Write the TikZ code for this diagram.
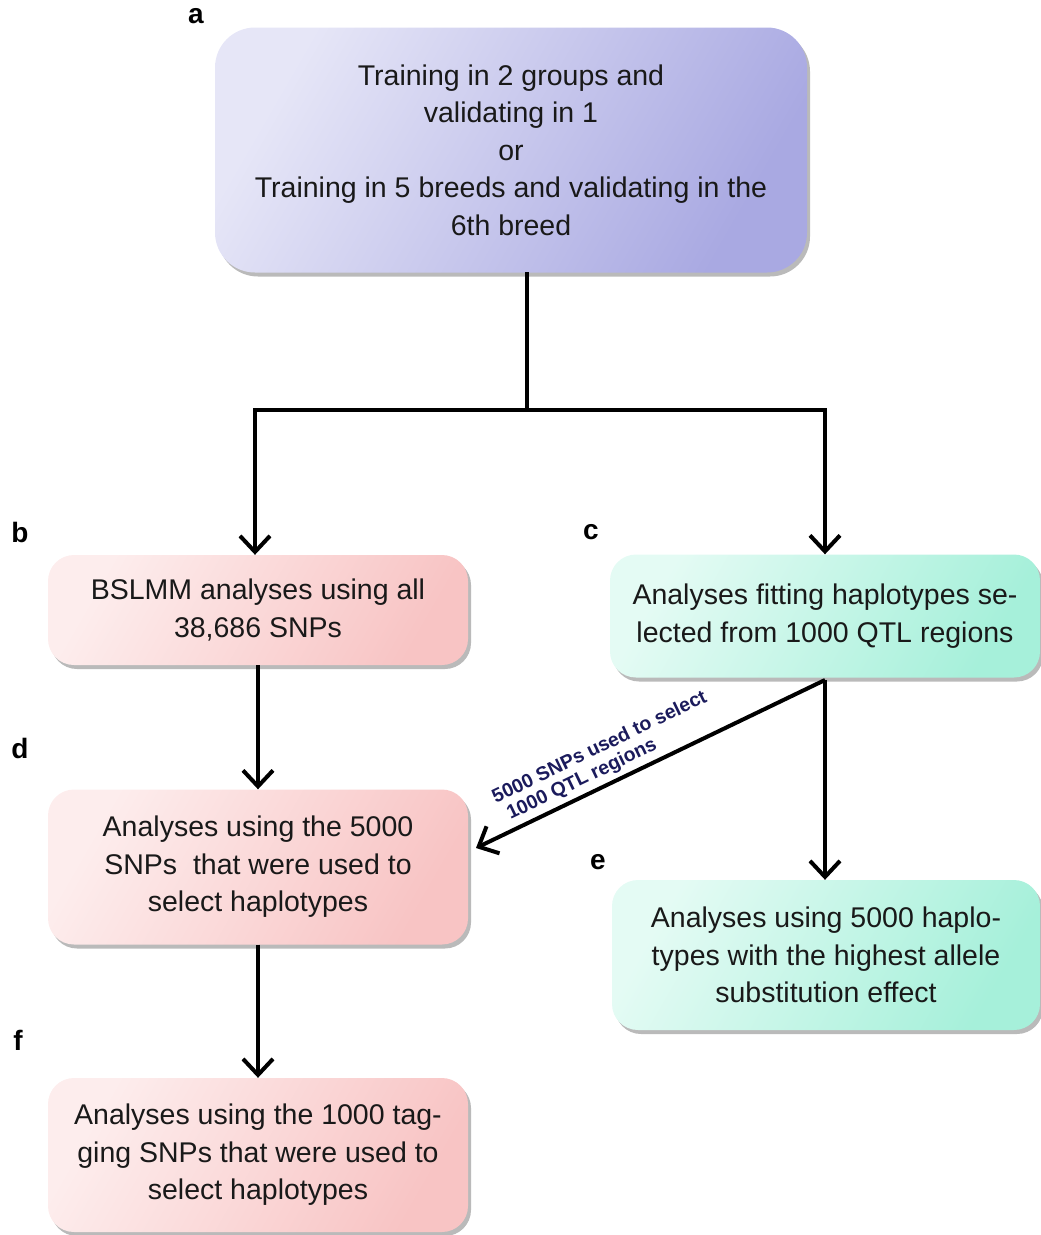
\documentclass[tikz,border=0pt]{standalone}
\usepackage{fontspec}
\setmainfont{Liberation Sans}
\usetikzlibrary{arrows.meta,shadows,calc}
\definecolor{lavL}{HTML}{E6E6F7}
\definecolor{lavD}{HTML}{A9A9E2}
\definecolor{pinkL}{HTML}{FDEDED}
\definecolor{pinkD}{HTML}{F8C4C4}
\definecolor{mintL}{HTML}{E4FBF4}
\definecolor{mintD}{HTML}{A6F0DA}
\definecolor{navy}{HTML}{1B1B5C}
\tikzset{
  box/.style={rectangle, rounded corners=26pt, align=center, inner sep=0pt,
    font=\fontsize{28.5}{37.5}\selectfont, text=black!90,
    drop shadow={shadow xshift=3pt, shadow yshift=-4pt, fill=black!45, opacity=0.6}},
  lavbox/.style={box, rounded corners=40pt, left color=lavL, right color=lavD, shading angle=60},
  pinkbox/.style={box, left color=pinkL, right color=pinkD, shading angle=60},
  mintbox/.style={box, left color=mintL, right color=mintD, shading angle=60},
  conn/.style={line width=4pt, draw=black},
  arr/.style={conn, -{Straight Barb[length=16pt, width=30pt, line width=4pt]}},
  lab/.style={font=\fontsize{28}{30}\selectfont\bfseries, inner sep=0pt},
}
\begin{document}
\begin{tikzpicture}[x=1pt, y=-1pt]
\useasboundingbox (0,0) rectangle (1041,1235);
\node[lavbox, minimum width=592pt, minimum height=245pt] (a) at (511,150)
  {Training in 2 groups and\\validating in 1\\or\\Training in 5 breeds and validating in the\\6th breed};
\node[pinkbox, minimum width=420pt, minimum height=110pt] (b) at (258,610)
  {BSLMM analyses using all\\38,686 SNPs};
\node[mintbox, minimum width=430pt, minimum height=123pt] (c) at (825,616)
  {Analyses fitting haplotypes se-\\lected from 1000 QTL regions};
\node[pinkbox, minimum width=420pt, minimum height=155pt] (d) at (258,867)
  {Analyses using the 5000\\SNPs\ \ that were used to\\select haplotypes};
\node[mintbox, minimum width=428pt, minimum height=150pt] (e) at (826,955)
  {Analyses using 5000 haplo-\\types with the highest allele\\substitution effect};
\node[pinkbox, minimum width=420pt, minimum height=154pt] (f) at (258,1155)
  {Analyses using the 1000 tag-\\ging SNPs that were used to\\select haplotypes};

\node[lab] (la) at (196,16) {a};
\node[lab] (lb) at (20,532) {b};
\node[lab] (lc) at (591,532) {c};
\node[lab] (ld) at (20,748) {d};
\node[lab] (le) at (598,862) {e};
\node[lab] (lf) at (18,1040) {f};

\coordinate (top) at (527,272);
\coordinate (j) at (527,410);
\coordinate (jl) at (255,410);
\coordinate (jr) at (825,410);
\draw[conn] (top) -- (j);
\draw[conn, line cap=rect] (jl) -- (jr);
\draw[arr] (jl) -- (jl |- b.north);
\draw[arr] (jr) -- (jr |- c.north);
\draw[arr] (b.south) -- (d.north);
\draw[arr] (d.south) -- (f.north);
\coordinate (cs) at (825,680);
\coordinate (dt) at (476,848);
\draw[arr] (cs) -- (e.north -| cs);
\draw[arr] (cs) -- node[pos=0.6, sloped, above=1pt, font=\fontsize{19.5}{21}\selectfont\bfseries, text=navy, align=left] (dl) {5000 SNPs used to select\\\hspace*{6pt}1000 QTL regions} (dt);
\end{tikzpicture}
\end{document}
